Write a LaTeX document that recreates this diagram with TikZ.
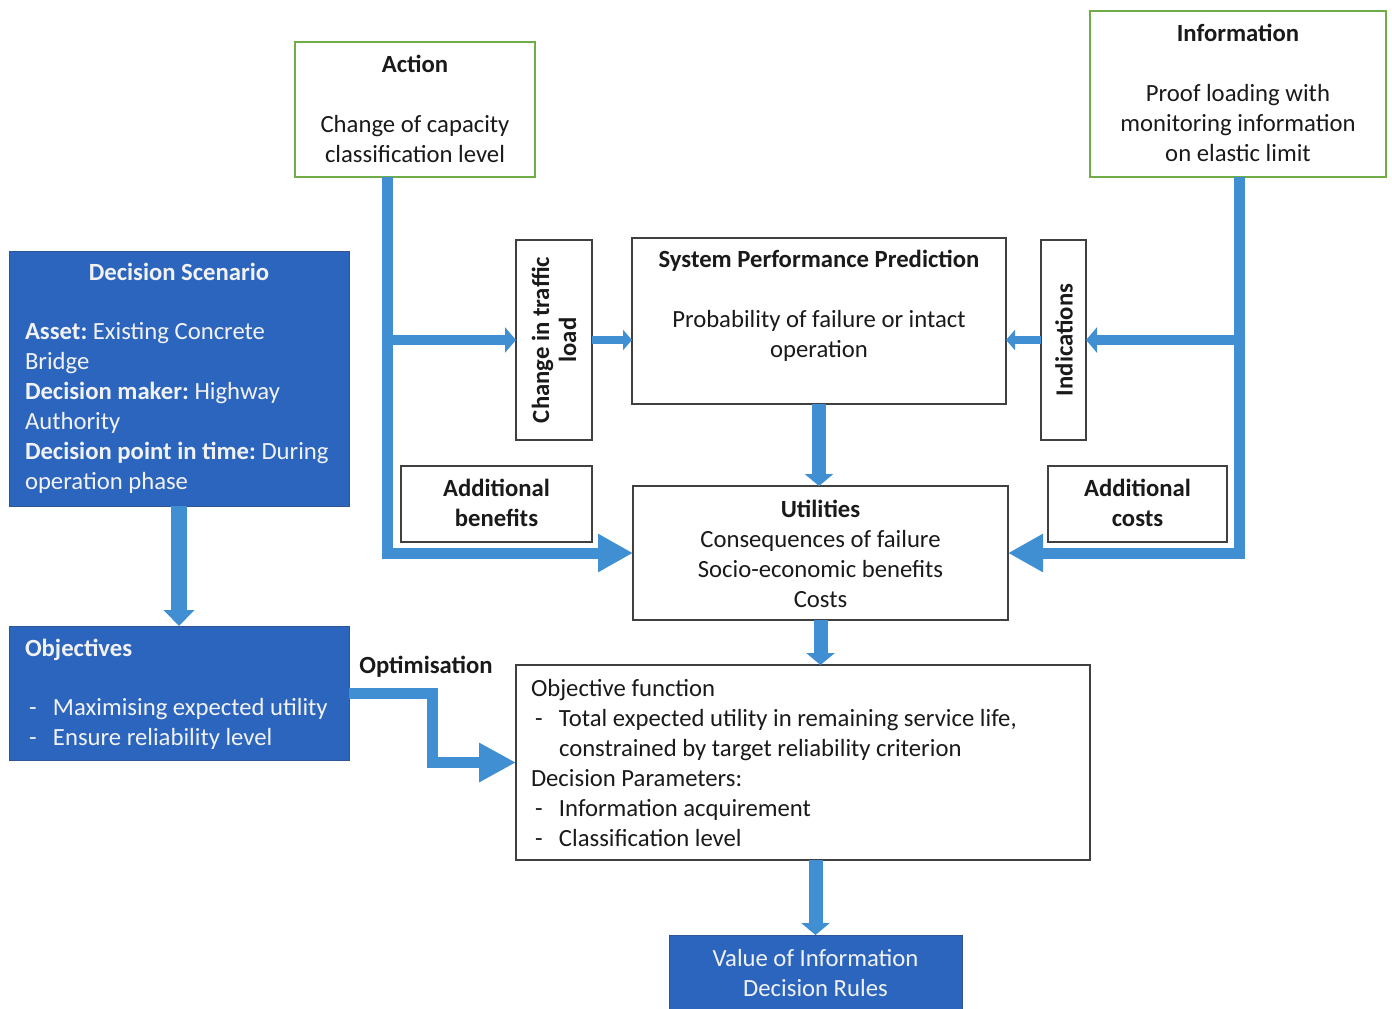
\documentclass[tikz,border=0pt]{standalone}
\usepackage{fontspec}
\setmainfont{Carlito}
\usetikzlibrary{arrows.meta,calc}
\definecolor{arrowblue}{HTML}{3F8FD2}
\definecolor{boxblue}{HTML}{2C65BE}
\definecolor{boxblueedge}{HTML}{2F5597}
\definecolor{boxgreen}{HTML}{70AD47}
\definecolor{boxgray}{HTML}{404040}
\definecolor{lighttext}{HTML}{F2F2F2}
\definecolor{darktext}{HTML}{1A1A1A}
\frenchspacing
\begin{document}
\begin{tikzpicture}[x=1pt,y=-1pt,
  every node/.style={font=\fontsize{24.7}{30}\selectfont, inner sep=0pt, outer sep=0pt},
  plainbox/.style={draw=boxgray, line width=1.5pt, anchor=north west, fill=white},
  greenbox/.style={draw=boxgreen, line width=1.5pt, anchor=north west, fill=white},
  bluebox/.style={draw=boxblueedge, line width=1pt, fill=boxblue, anchor=north west},
  txt/.style={align=center, text=darktext},
  wtxt/.style={align=left, text=lighttext, anchor=west},
  flow/.style={draw=arrowblue, line join=miter},
  bigflow/.style={flow, line width=11pt, -{Triangle[length=35pt,width=36pt]}},
  medflow/.style={flow, line width=10pt, -{Triangle[length=11pt,width=25pt]}},
  smallflow/.style={flow, line width=8pt, -{Triangle[length=9pt,width=20pt]}},
  vflow/.style={flow, line width=14pt, -{Triangle[length=12pt,width=28pt]}},
  dsflow/.style={flow, line width=16pt, -{Triangle[length=16pt,width=30pt]}},
  optflow/.style={flow, line width=11pt, -{Triangle[length=37pt,width=37pt]}},
  boldtxt/.style={txt, font=\fontsize{24.7}{30}\selectfont\bfseries},
]
\useasboundingbox (0,0) rectangle (1392,1009);

% boxes
\node[greenbox, minimum width=240, minimum height=135] (action) at (295,42) {};
\node[greenbox, minimum width=296, minimum height=166] (info) at (1090,11) {};
\node[bluebox, minimum width=340, minimum height=255] (scenario) at (9,251) {};
\node[bluebox, minimum width=340, minimum height=134] (objectives) at (9,626) {};
\node[plainbox, minimum width=76, minimum height=200] (changebox) at (516,240) {};
\node[plainbox, minimum width=374, minimum height=166] (spp) at (632,238) {};
\node[plainbox, minimum width=45, minimum height=200] (indbox) at (1041,240) {};
\node[plainbox, minimum width=191, minimum height=76] (addben) at (401,466) {};
\node[plainbox, minimum width=375, minimum height=134] (utilities) at (633,486) {};
\node[plainbox, minimum width=179, minimum height=76] (addcost) at (1048,466) {};
\node[plainbox, minimum width=574, minimum height=195] (objfun) at (516,665) {};
\node[bluebox, minimum width=293, minimum height=110] (voi) at (669,935) {};

% texts
\node[txt] (actiontxt) at (415,109) {\textbf{Action}\\[30pt]Change of capacity\\classification level};
\node[txt] (infotxt) at (1238,93) {\textbf{Information}\\[30pt]Proof loading with\\monitoring information\\on elastic limit};
\node[wtxt] (scenariotxt) at (25,378) {\makebox[308pt]{\textbf{Decision Scenario}}\\[29pt]
\textbf{Asset:} Existing Concrete\\
Bridge\\
\textbf{Decision maker:} Highway\\
Authority\\
\textbf{Decision point in time:} During\\
operation phase};
\node[wtxt] (objectivestxt) at (25,694) {\textbf{Objectives}\\[29pt]
\makebox[28pt][l]{\hspace{4pt}-}Maximising expected utility\\
\makebox[28pt][l]{\hspace{4pt}-}Ensure reliability level};
\node[boldtxt, rotate=90] (changetxt) at (554,340) {Change in traffic\\[-3pt]load};
\node[txt] (spptxt) at (819,306) {\textbf{System Performance Prediction}\\[30pt]Probability of failure or intact\\operation};
\node[boldtxt, rotate=90] (indtxt) at (1064,340) {Indications};
\node[boldtxt] (addbentxt) at (496.5,503) {Additional\\benefits};
\node[boldtxt] (addcosttxt) at (1137.5,503) {Additional\\costs};
\node[txt] (utiltxt) at (820.5,554) {\textbf{Utilities}\\Consequences of failure\\Socio-economic benefits\\Costs};
\node[align=left, text=darktext, anchor=west] (objfuntxt) at (531,763) {Objective function\\
\makebox[28pt][l]{\hspace{4pt}-}Total expected utility in remaining service life,\\
\hspace*{28pt}constrained by target reliability criterion\\
Decision Parameters:\\
\makebox[28pt][l]{\hspace{4pt}-}Information acquirement\\
\makebox[28pt][l]{\hspace{4pt}-}Classification level};
\node[align=center, text=lighttext] (voitxt) at (815.5,973) {Value of Information\\Decision Rules};
\node[boldtxt] (opttxt) at (426,667) {Optimisation};

% connectors
\coordinate (abar) at (387,177);
\coordinate (abranch) at (387,340);
\coordinate (ibar) at (1239,177);
\coordinate (ibranch) at (1239,340);
\draw[bigflow] (abar) |- (utilities.west);
\draw[medflow] (abranch) -- (changebox.west);
\draw[smallflow] (changebox.east) -- (changebox.east -| spp.west);
\draw[bigflow] (ibar) |- (utilities.east);
\draw[medflow] (ibranch) -- (indbox.east);
\draw[smallflow] (indbox.west) -- (indbox.west -| spp.east);
\draw[vflow] (spp.south) -- (spp.south |- utilities.north);
\draw[vflow] (utilities.south) -- (utilities.south |- objfun.north);
\draw[vflow] (objfun.south -| voi.north) -- (voi.north);
\draw[dsflow] (scenario.south) -- (objectives.north);
\draw[optflow] (objectives.east) -- ++(83,0) |- (objfun.west);
\end{tikzpicture}
\end{document}
